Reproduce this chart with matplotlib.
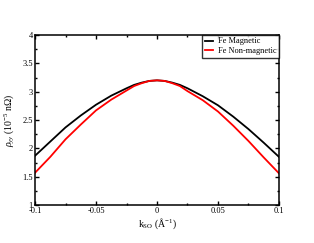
import matplotlib
matplotlib.use("Agg")
from matplotlib import pyplot as plt
from matplotlib.ticker import MultipleLocator, FuncFormatter

plt.rcParams['font.family'] = ['Liberation Serif', 'DejaVu Serif']
plt.rcParams['mathtext.fontset'] = 'custom'
plt.rcParams['mathtext.rm'] = 'Liberation Serif'
plt.rcParams['mathtext.it'] = 'Liberation Serif:italic'

# k_SO values and resistivity
k_so = [-0.1, -0.0875, -0.075, -0.0625, -0.05, -0.0375, -0.025, -0.01875,
        -0.0125, -0.00625, 0.0, 0.00625, 0.0125, 0.01875, 0.025, 0.0375,
        0.05, 0.0625, 0.075, 0.0875, 0.1]
rho_mag = [1.87, 2.12, 2.37, 2.58, 2.77, 2.93, 3.06, 3.12,
           3.16, 3.19, 3.2, 3.19, 3.16, 3.12, 3.06, 2.92,
           2.76, 2.56, 2.34, 2.1, 1.85]
rho_nonmag = [1.57, 1.85, 2.16, 2.42, 2.67, 2.86, 3.02, 3.1,
              3.15, 3.19, 3.2, 3.19, 3.15, 3.1, 3.01, 2.85,
              2.65, 2.4, 2.13, 1.84, 1.56]

fig = plt.figure(figsize=(3.14, 2.43), dpi=100)
ax = fig.add_axes([0.1115, 0.156, 0.777, 0.70])

ax.plot(k_so, rho_mag, c='black', lw=1.3, label='Fe Magnetic')
ax.plot(k_so, rho_nonmag, c='red', lw=1.3, label='Fe Non-magnetic')

ax.set_xlim(-0.1, 0.1)
ax.set_ylim(1, 4)
ax.xaxis.set_major_locator(MultipleLocator(0.05))
ax.xaxis.set_minor_locator(MultipleLocator(0.025))
ax.yaxis.set_major_locator(MultipleLocator(0.5))
ax.yaxis.set_minor_locator(MultipleLocator(0.25))
ax.xaxis.set_major_formatter(FuncFormatter(lambda v, p: '0' if abs(v) < 1e-9 else '%g' % v))
ax.yaxis.set_major_formatter(FuncFormatter(lambda v, p: '%g' % v))

ax.tick_params(which='both', direction='in', top=True, right=True, labelsize=6, pad=1.5)
ax.tick_params(which='major', length=3, width=1)
ax.tick_params(which='minor', length=1.5, width=1)
for s in ax.spines.values():
    s.set_linewidth(1.1)

ax.set_xlabel(r'k$_{\mathrm{SO}}$ ($\mathrm{\AA}^{-1}$)', fontsize=7, labelpad=1)
ax.set_ylabel(r'$\rho_{yy}$ (10$^{-5}$ n$\Omega$)', fontsize=7, labelpad=4)

leg = ax.legend(loc='upper right', fontsize=6, frameon=True, fancybox=False,
                borderaxespad=0, handlelength=1.0, handletextpad=0.6,
                borderpad=0.3, labelspacing=0.2)
leg.get_frame().set_edgecolor('black')
leg.get_frame().set_linewidth(1.0)

fig.savefig('out.png', dpi=100)
